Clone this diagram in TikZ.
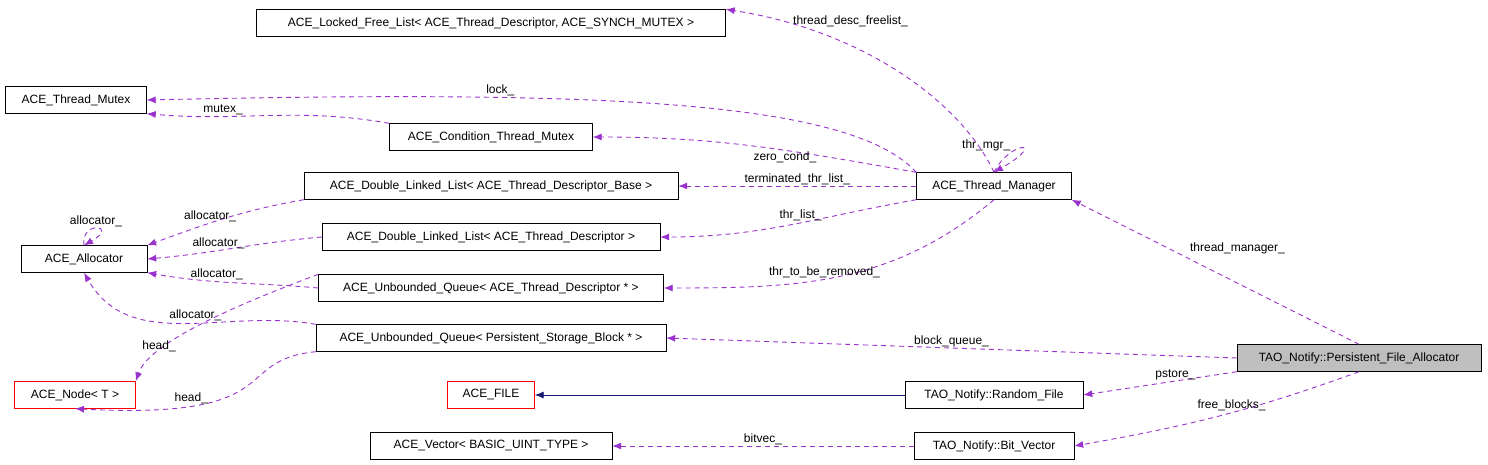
\documentclass[tikz,border=0pt]{standalone}
\usepackage{fontspec}
\setmainfont{Liberation Sans}
\usetikzlibrary{arrows.meta}
\definecolor{edgepurple}{RGB}{154,50,205}
\definecolor{edgenavy}{RGB}{25,25,112}
\tikzset{
  cls/.style={draw=black, fill=white, inner sep=0pt, minimum height=27pt, font=\fontsize{12}{14}\selectfont},
  ext/.style={cls, draw=red},
  self/.style={cls, fill=black!25},
  member/.style={draw=edgepurple, line width=0.9pt, dash pattern=on 5pt off 4pt, -{Latex[length=9pt,width=7pt]}},
  inherit/.style={draw=edgenavy, line width=0.9pt, -{Latex[length=9pt,width=7pt]}},
  lbl/.style={font=\fontsize{12}{14}\selectfont, inner sep=1pt}
}
\begin{document}
\begin{tikzpicture}[x=1pt,y=-1pt]
\useasboundingbox (0,0) rectangle (1488,465);
% classes
\node[cls, minimum width=469pt] (freelist) at (491,23) {ACE\_Locked\_Free\_List\textless{} ACE\_Thread\_Descriptor, ACE\_SYNCH\_MUTEX \textgreater};
\node[cls, minimum width=141pt] (mutex) at (76,100) {ACE\_Thread\_Mutex};
\node[cls, minimum width=203pt] (cond) at (491,137) {ACE\_Condition\_Thread\_Mutex};
\node[cls, minimum width=374pt] (dllbase) at (491,186) {ACE\_Double\_Linked\_List\textless{} ACE\_Thread\_Descriptor\_Base \textgreater};
\node[cls, minimum width=155pt] (mgr) at (994,186) {ACE\_Thread\_Manager};
\node[cls, minimum width=126pt] (alloc) at (84,259) {ACE\_Allocator};
\node[cls, minimum width=338pt] (dlldesc) at (491,237) {ACE\_Double\_Linked\_List\textless{} ACE\_Thread\_Descriptor \textgreater};
\node[cls, minimum width=345pt] (uqdesc) at (491,288) {ACE\_Unbounded\_Queue\textless{} ACE\_Thread\_Descriptor * \textgreater};
\node[cls, minimum width=350pt] (uqblock) at (491,338) {ACE\_Unbounded\_Queue\textless{} Persistent\_Storage\_Block * \textgreater};
\node[self, minimum width=244pt] (pfa) at (1359,358) {TAO\_Notify::Persistent\_File\_Allocator};
\node[ext, minimum width=121pt] (acenode) at (75,395) {ACE\_Node\textless{} T \textgreater};
\node[ext, minimum width=87pt] (acefile) at (491,395) {ACE\_FILE};
\node[cls, minimum width=178pt] (rfile) at (994,395) {TAO\_Notify::Random\_File};
\node[cls, minimum width=242pt] (vector) at (491,446) {ACE\_Vector\textless{} BASIC\_UINT\_TYPE \textgreater};
\node[cls, minimum width=160pt] (bitvec) at (994,446) {TAO\_Notify::Bit\_Vector};
% members
\draw[member] (mgr.north) .. controls (960,100) and (860,30) .. node[lbl, pos=0.85, right=8pt] {thread\_desc\_freelist\_} (freelist.north east);
\draw[member] (mgr.north west) .. controls (850,100) and (600,90) .. node[lbl, pos=0.7, above] {lock\_} (mutex.east);
\draw[member] (cond.north west) to[out=170,in=-5] node[lbl, pos=0.7, above] {mutex\_} (mutex.south east);
\draw[member] (mgr.north west) to[out=170,in=0] node[lbl, pos=0.4, below] {zero\_cond\_} (cond.east);
\draw[member] (mgr.north) .. controls (1010,140) and (1050,140) .. node[lbl, pos=0.3, above left] {thr\_mgr\_} (mgr.north);
\draw[member] (mgr.west) -- node[lbl, above] {terminated\_thr\_list\_} (dllbase.east);
\draw[member] (mgr.south west) to[out=190,in=0] node[lbl, pos=0.45, above] {thr\_list\_} (dlldesc.east);
\draw[member] (mgr.south) to[out=220,in=0] node[lbl, pos=0.55, above] {thr\_to\_be\_removed\_} (uqdesc.east);
\draw[member] (pfa.north) -- node[lbl, pos=0.6, above right=2pt] {thread\_manager\_} (mgr.south east);
\draw[member] (pfa.west) -- node[lbl, pos=0.5, above] {block\_queue\_} (uqblock.east);
\draw[member] (pfa.south west) -- node[lbl, pos=0.4, above] {pstore\_} (rfile.east);
\draw[member] (pfa.south) to[out=200,in=10] node[lbl, pos=0.45, above] {free\_blocks\_} (bitvec.east);
\draw[member] (bitvec.west) -- node[lbl, above] {bitvec\_} (vector.east);
\draw[member] (dllbase.south west) to[out=190,in=20] node[lbl, pos=0.6, above] {allocator\_} (alloc.north east);
\draw[member] (dlldesc.west) to[out=185,in=5] node[lbl, pos=0.6, above] {allocator\_} (alloc.east);
\draw[member] (uqdesc.west) to[out=175,in=-10] node[lbl, pos=0.6, above] {allocator\_} (alloc.south east);
\draw[member] (uqblock.north west) to[out=170,in=-60] node[lbl, pos=0.45, above] {allocator\_} (alloc.south);
\draw[member] (alloc.north) .. controls (80,220) and (120,225) .. node[lbl, pos=0.5, above] {allocator\_} (alloc.north);
\draw[member] (uqdesc.north west) .. controls (250,300) and (150,340) .. node[lbl, pos=0.65, below left] {head\_} (acenode.north east);
\draw[member] (uqblock.south west) .. controls (230,360) and (290,420) .. node[lbl, pos=0.75, above] {head\_} (acenode.south);
% inheritance
\draw[inherit] (rfile.west) -- (acefile.east);
\end{tikzpicture}
\end{document}
